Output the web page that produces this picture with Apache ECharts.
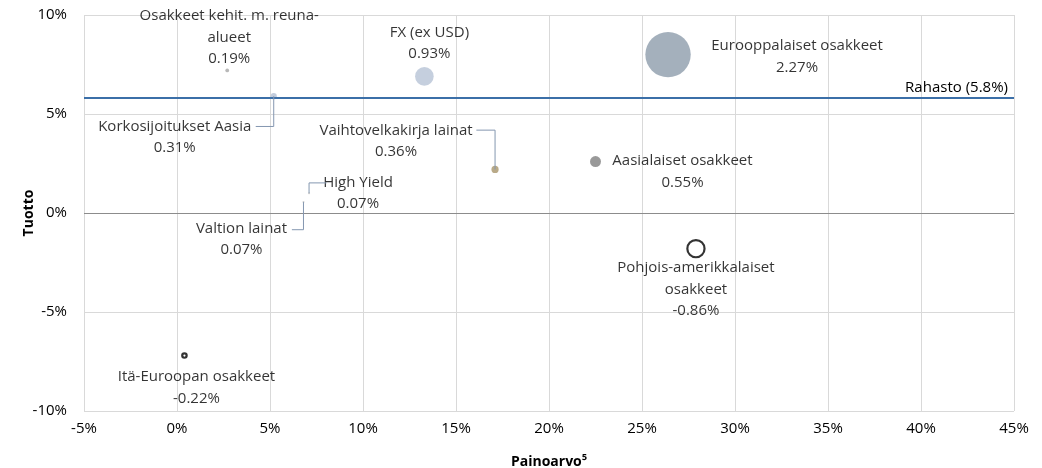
<!DOCTYPE html>
<html><head><meta charset="utf-8">
<script src="https://cdn.jsdelivr.net/npm/echarts@6/dist/echarts.min.js"></script>
<style>html,body{margin:0;padding:0;background:#fff}#c{width:1042px;height:468px}</style>
</head><body><div id="c"></div>
<script>
// ---- data ----
const names = ['Osakkeet kehit. m. reuna-alueet','Korkosijoitukset Aasia','FX (ex USD)','Eurooppalaiset osakkeet','Vaihtovelkakirja lainat','Aasialaiset osakkeet','Pohjois-amerikkalaiset osakkeet','Itä-Euroopan osakkeet','High Yield','Valtion lainat'];
const weights = [2.7, 5.2, 13.3, 26.4, 17.1, 22.5, 27.9, 0.4, 7.1, 6.8];      // Painoarvo %
const returns = [7.2, 5.9, 6.9, 8.0, 2.2, 2.6, -1.8, -7.2, 1.0, 0.55];        // Tuotto %
const contrib = [0.19, 0.31, 0.93, 2.27, 0.36, 0.55, -0.86, -0.22, 0.07, 0.07]; // bubble value %
const fundReturn = 5.8;
const xTicks = [-5, 45, 5];
const yTicks = [-10, 10, 5];

// ---- styles (not data) ----
const FONT = 'Open Sans';
const FS = 15;
const wrapName = {
  'Osakkeet kehit. m. reuna-alueet': 'Osakkeet kehit. m. reuna-\nalueet',
  'Pohjois-amerikkalaiset osakkeet': 'Pohjois-amerikkalaiset\nosakkeet'
};
const fills = ['#a6a6a6','#b4c1d4','#b6c3d6','#8d9cab','#a8956a','#7f7f7f','#ffffff','#ffffff','#bfbfbf','#bfbfbf'];
const borders = [null,null,null,null,null,null,'#000000','#000000',null,null];
const labelOffsets = [[2,-33],[-99,41],[5,-33],[129,2],[-99,-28],[87,10],[0,41],[12,32],[49,0],[-62,37]];
// leader: [vertical dy, horizontal dx] relative to point
const leaders = {1:[30.3,-18], 4:[-39.3,-18.7], 8:[-10.3,17.4], 9:[27.6,-11.6]};

const data = names.map((n,i)=>({
  name: n,
  value: [weights[i], returns[i], contrib[i]],
  symbolSize: Math.max(2, 20*Math.abs(contrib[i])),
  itemStyle: borders[i] ? {color: fills[i], borderColor: borders[i], borderWidth: 2.2} : {color: fills[i]},
  label: {offset: labelOffsets[i]}
}));

const chart = echarts.init(document.getElementById('c'), null, {renderer:'canvas'});
const axisLabel = {color:'#000', fontFamily: FONT, fontSize: FS};
chart.setOption({
  animation: false,
  grid: {left: 84, right: 28, top: 15, bottom: 57, containLabel:false, outerBoundsMode:'none'},
  xAxis: {
    type:'value', min:xTicks[0], max:xTicks[1], interval:xTicks[2],
    name:'Painoarvo⁵', nameLocation:'middle', nameGap: 44, nameMoveOverlap:false,
    nameTextStyle:{fontFamily:FONT, fontSize:14, fontWeight:'bold', color:'#000'},
    axisLine:{show:false}, axisTick:{show:false},
    axisLabel:Object.assign({formatter: v=>v+'%', margin: 10}, axisLabel),
    splitLine:{show:true, lineStyle:{color:'#d9d9d9', width:1}}
  },
  yAxis: {
    type:'value', min:yTicks[0], max:yTicks[1], interval:yTicks[2],
    name:'Tuotto', nameLocation:'middle', nameGap: 48, nameRotate: 90, nameMoveOverlap:false,
    nameTextStyle:{fontFamily:FONT, fontSize:14, fontWeight:'bold', color:'#000'},
    axisLine:{show:false}, axisTick:{show:false},
    axisLabel:Object.assign({formatter: v=>v+'%', margin: 17}, axisLabel),
    splitLine:{show:true, lineStyle:{color:'#d9d9d9', width:1}}
  },
  series: [{
    type:'scatter',
    silent:true,
    data: data,
    label: {
      show:true, position:'inside', align:'center', verticalAlign:'middle',
      color:'#000', fontFamily:FONT, fontSize:FS, lineHeight:21.5,
      formatter: p => (wrapName[p.name]||p.name) + '\n' + p.value[2].toFixed(2) + '%'
    },
    emphasis:{disabled:true},
    markLine: {
      silent:true, symbol:'none', animation:false,
      data: [
        {yAxis: 0, lineStyle:{color:'#8c8c8c', width:1.2, type:'solid'}, label:{show:false}},
        {yAxis: fundReturn, lineStyle:{color:'#3b6fa8', width:1.8, type:'solid'},
         label:{show:true, position:'insideEndTop', formatter:'Rahasto (' + fundReturn + '%)', color:'#000', fontFamily:FONT, fontSize:FS, distance:[6,3]}}
      ]
    }
  }]
});

// elbow leader lines, computed from the data points through the chart's scales
const g = [];
Object.keys(leaders).forEach(k=>{
  const i = +k;
  const p = chart.convertToPixel({seriesIndex:0}, [weights[i], returns[i]]);
  const [vy, hx] = leaders[k];
  g.push({type:'polyline', silent:true, z:100,
    shape:{points:[[p[0], p[1]], [p[0], p[1]+vy], [p[0]+hx, p[1]+vy]]},
    style:{stroke:'#8497b0', lineWidth:1, fill:null}});
});
chart.setOption({graphic: g});
</script></body></html>
